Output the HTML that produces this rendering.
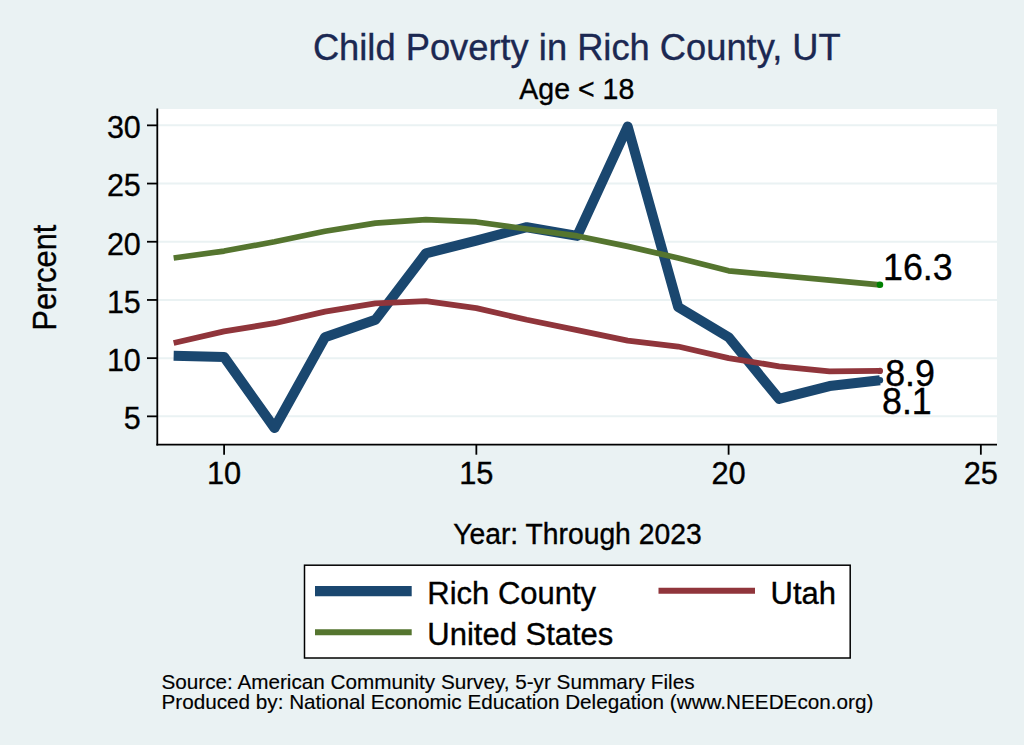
<!DOCTYPE html>
<html><head><meta charset="utf-8"><style>
html,body{margin:0;padding:0;background:#EAF2F3;}
body{width:1024px;height:745px;overflow:hidden;}
svg{display:block;}
text{font-family:"Liberation Sans",sans-serif;}
</style></head><body>
<svg width="1024" height="745" viewBox="0 0 1024 745">
<rect x="0" y="0" width="1024" height="745" fill="#EAF2F3"/>
<rect x="157" y="109" width="840" height="335.5" fill="#FFFFFF"/>
<line x1="157" y1="416.35" x2="997" y2="416.35" stroke="#EAF2F3" stroke-width="2"/>
<line x1="157" y1="358.15" x2="997" y2="358.15" stroke="#EAF2F3" stroke-width="2"/>
<line x1="157" y1="299.95" x2="997" y2="299.95" stroke="#EAF2F3" stroke-width="2"/>
<line x1="157" y1="241.75" x2="997" y2="241.75" stroke="#EAF2F3" stroke-width="2"/>
<line x1="157" y1="183.55" x2="997" y2="183.55" stroke="#EAF2F3" stroke-width="2"/>
<line x1="157" y1="125.35" x2="997" y2="125.35" stroke="#EAF2F3" stroke-width="2"/>

<polyline points="173.65,355.82 224.10,356.99 274.55,427.99 325.00,337.20 375.45,319.74 425.90,253.39 476.35,240.59 526.80,227.20 577.25,235.93 627.70,126.51 678.15,306.93 728.60,337.20 779.05,398.89 829.50,386.09 879.95,380.27" fill="none" stroke="#1A476F" stroke-width="10" stroke-linejoin="round" stroke-linecap="butt"/>
<polyline points="173.65,343.02 224.10,331.38 274.55,323.23 325.00,311.59 375.45,303.44 425.90,301.11 476.35,308.10 526.80,319.74 577.25,330.21 627.70,340.69 678.15,346.51 728.60,358.15 779.05,366.30 829.50,371.42 879.95,370.95" fill="none" stroke="#90353B" stroke-width="5.8" stroke-linejoin="round" stroke-linecap="butt"/>
<polyline points="173.65,258.05 224.10,251.06 274.55,241.75 325.00,231.27 375.45,223.13 425.90,219.63 476.35,221.96 526.80,228.95 577.25,235.93 627.70,246.41 678.15,258.05 728.60,270.85 779.05,275.51 829.50,280.16 879.95,284.82" fill="none" stroke="#55752F" stroke-width="5.7" stroke-linejoin="round" stroke-linecap="butt"/>
<circle cx="879.95" cy="380.27" r="3.2" fill="#1A476F"/>
<circle cx="879.95" cy="370.95" r="3.1" fill="#90353B"/>
<circle cx="879.95" cy="284.82" r="3.3" fill="#008000"/>
<line x1="157.3" y1="108.5" x2="157.3" y2="445.5" stroke="#000" stroke-width="1.8"/>
<line x1="156.4" y1="444.6" x2="997" y2="444.6" stroke="#000" stroke-width="1.8"/>
<line x1="147" y1="416.35" x2="157" y2="416.35" stroke="#000" stroke-width="1.8"/>
<text transform="translate(140.80,429.25) scale(1,1.03)" text-anchor="end" font-size="30.5" fill="#000" stroke="#000" stroke-width="0.3">5</text>
<line x1="147" y1="358.15" x2="157" y2="358.15" stroke="#000" stroke-width="1.8"/>
<text transform="translate(140.80,371.05) scale(1,1.03)" text-anchor="end" font-size="30.5" fill="#000" stroke="#000" stroke-width="0.3">10</text>
<line x1="147" y1="299.95" x2="157" y2="299.95" stroke="#000" stroke-width="1.8"/>
<text transform="translate(140.80,312.85) scale(1,1.03)" text-anchor="end" font-size="30.5" fill="#000" stroke="#000" stroke-width="0.3">15</text>
<line x1="147" y1="241.75" x2="157" y2="241.75" stroke="#000" stroke-width="1.8"/>
<text transform="translate(140.80,254.65) scale(1,1.03)" text-anchor="end" font-size="30.5" fill="#000" stroke="#000" stroke-width="0.3">20</text>
<line x1="147" y1="183.55" x2="157" y2="183.55" stroke="#000" stroke-width="1.8"/>
<text transform="translate(140.80,196.45) scale(1,1.03)" text-anchor="end" font-size="30.5" fill="#000" stroke="#000" stroke-width="0.3">25</text>
<line x1="147" y1="125.35" x2="157" y2="125.35" stroke="#000" stroke-width="1.8"/>
<text transform="translate(140.80,138.25) scale(1,1.03)" text-anchor="end" font-size="30.5" fill="#000" stroke="#000" stroke-width="0.3">30</text>
<line x1="224.10" y1="444.6" x2="224.10" y2="454.7" stroke="#000" stroke-width="1.8"/>
<text transform="translate(224.10,483.90) scale(1,1.02)" text-anchor="middle" font-size="30.8" fill="#000" stroke="#000" stroke-width="0.35">10</text>
<line x1="476.35" y1="444.6" x2="476.35" y2="454.7" stroke="#000" stroke-width="1.8"/>
<text transform="translate(476.35,483.90) scale(1,1.02)" text-anchor="middle" font-size="30.8" fill="#000" stroke="#000" stroke-width="0.35">15</text>
<line x1="728.60" y1="444.6" x2="728.60" y2="454.7" stroke="#000" stroke-width="1.8"/>
<text transform="translate(728.60,483.90) scale(1,1.02)" text-anchor="middle" font-size="30.8" fill="#000" stroke="#000" stroke-width="0.35">20</text>
<line x1="980.85" y1="444.6" x2="980.85" y2="454.7" stroke="#000" stroke-width="1.8"/>
<text transform="translate(980.85,483.90) scale(1,1.02)" text-anchor="middle" font-size="30.8" fill="#000" stroke="#000" stroke-width="0.35">25</text>
<text transform="translate(883.00,279.90) scale(1,1.01)" text-anchor="start" font-size="35.8" fill="#000" stroke="#000" stroke-width="0.35">16.3</text>
<text transform="translate(885.20,386.00) scale(1,1.01)" text-anchor="start" font-size="35.8" fill="#000" stroke="#000" stroke-width="0.35">8.9</text>
<text transform="translate(882.00,413.90) scale(1,1.01)" text-anchor="start" font-size="35.8" fill="#000" stroke="#000" stroke-width="0.35">8.1</text>
<text transform="translate(576.80,60.00)" text-anchor="middle" font-size="36.3" fill="#1B2852" stroke="#1B2852" stroke-width="0.35">Child Poverty in Rich County, UT</text>
<text transform="translate(576.80,98.90) scale(1,1.05)" text-anchor="middle" font-size="28.5" fill="#000" stroke="#000" stroke-width="0.35">Age &lt; 18</text>
<text transform="translate(56.00,277.60) rotate(-90) scale(1,1.07)" text-anchor="middle" font-size="30.7" fill="#000" stroke="#000" stroke-width="0.35">Percent</text>
<text transform="translate(577.40,544.20) scale(1,1.025)" text-anchor="middle" font-size="28.3" fill="#000" stroke="#000" stroke-width="0.35">Year: Through 2023</text>
<rect x="304.5" y="565.2" width="545.7" height="92.8" fill="#FFFFFF" stroke="#000" stroke-width="1.5"/>
<line x1="315" y1="591.1" x2="411.7" y2="591.1" stroke="#1A476F" stroke-width="10.2"/>
<line x1="658.5" y1="590.8" x2="755" y2="590.8" stroke="#90353B" stroke-width="6"/>
<line x1="315" y1="632.2" x2="411.7" y2="632.2" stroke="#55752F" stroke-width="6"/>
<text transform="translate(427.30,604.20) scale(1,1.02)" text-anchor="start" font-size="31.0" fill="#000" stroke="#000" stroke-width="0.35">Rich County</text>
<text transform="translate(770.50,604.20) scale(1,1.02)" text-anchor="start" font-size="31.0" fill="#000" stroke="#000" stroke-width="0.35">Utah</text>
<text transform="translate(427.30,645.00) scale(1,1.02)" text-anchor="start" font-size="31.0" fill="#000" stroke="#000" stroke-width="0.35">United States</text>
<text transform="translate(161.50,689.00)" text-anchor="start" font-size="20.7" fill="#000" stroke="#000" stroke-width="0.15">Source: American Community Survey, 5-yr Summary Files</text>
<text transform="translate(161.50,708.80)" text-anchor="start" font-size="20.7" fill="#000" stroke="#000" stroke-width="0.15">Produced by: National Economic Education Delegation (www.NEEDEcon.org)</text>
</svg>
</body></html>
